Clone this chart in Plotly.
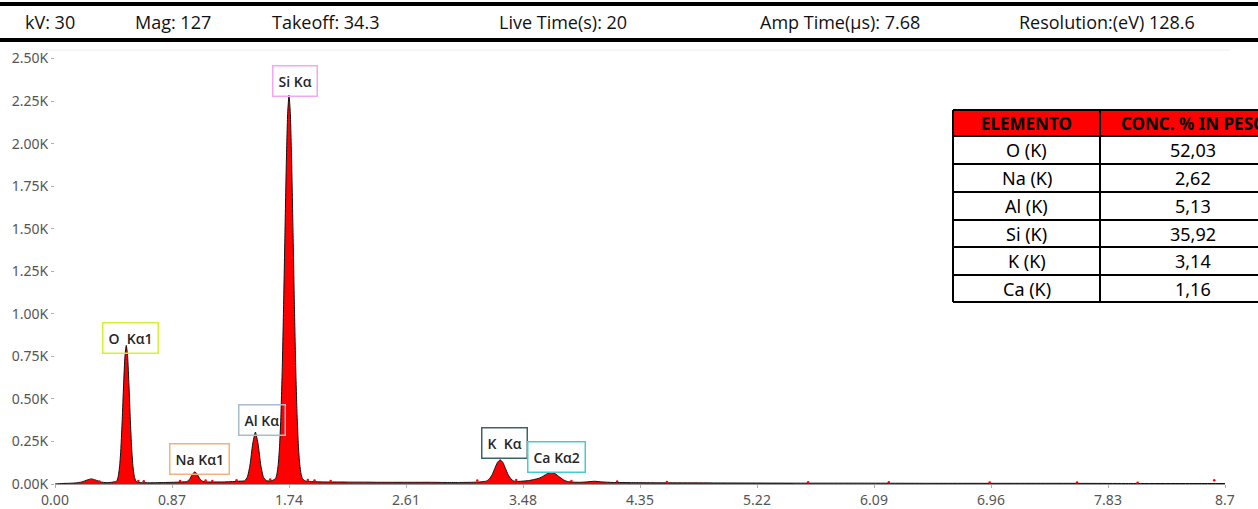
import plotly.graph_objects as go

# ---------------- data ----------------
energy = [
    0.00, 0.05, 0.10, 0.15, 0.20, 0.24, 0.27, 0.30, 0.34, 0.38, 0.42, 0.45,
    0.46, 0.47, 0.48, 0.49, 0.50, 0.51, 0.52, 0.53, 0.54, 0.55, 0.56, 0.57, 0.58, 0.59, 0.60, 0.61,
    0.64, 0.70, 0.76, 0.82, 0.88, 0.94, 0.98,
    1.00, 1.02, 1.04, 1.06, 1.08, 1.10, 1.14, 1.20, 1.26, 1.32, 1.38,
    1.41, 1.43, 1.45, 1.47, 1.49, 1.51, 1.53, 1.55, 1.57, 1.59, 1.61,
    1.62, 1.64, 1.65, 1.66, 1.67, 1.68, 1.69, 1.70, 1.71, 1.72, 1.73, 1.74, 1.75, 1.76, 1.77, 1.78,
    1.79, 1.80, 1.81, 1.82, 1.83, 1.84, 1.86, 1.90,
    1.95, 2.00, 2.10, 2.20, 2.30, 2.40, 2.50, 2.60, 2.70, 2.80, 2.90, 3.00, 3.10, 3.16, 3.20,
    3.21, 3.23, 3.25, 3.27, 3.29, 3.31, 3.33, 3.35, 3.37, 3.39, 3.41,
    3.44, 3.48, 3.52, 3.56, 3.60, 3.63, 3.66, 3.69, 3.72, 3.75, 3.78, 3.81, 3.85, 3.90, 3.95,
    4.01, 4.07, 4.15, 4.30, 4.50,
    5.00, 5.50, 6.00, 6.50, 7.00, 7.50, 8.00, 8.50, 8.70,
]
counts = [
    0, 3, 4, 6, 12, 24, 30, 24, 12, 8, 10, 14,
    18, 44, 100, 210, 380, 580, 750, 815, 750, 580, 380, 210, 100, 44, 20, 11,
    8, 7, 8, 9, 10, 12, 14,
    27, 54, 72, 54, 27, 15, 12, 12, 12, 14, 17,
    19, 40, 112, 235, 305, 235, 112, 40, 20, 18, 20,
    22, 32, 58, 115, 222, 406, 685, 1055, 1478, 1883, 2177, 2285, 2177, 1883, 1478, 1055,
    685, 406, 222, 115, 58, 32, 18, 14,
    13, 12, 12, 11, 11, 10, 10, 10, 10, 10, 9, 9, 10, 12, 16,
    18, 30, 54, 91, 127, 142, 127, 91, 54, 30, 18,
    15, 17, 20, 26, 34, 46, 60, 68, 60, 42, 25, 15, 11, 10, 12,
    16, 12, 9, 8, 7,
    6, 5, 5, 4, 4, 4, 3, 3, 3,
]

# scattered noise specks (red) along the baseline
noise_e = [0.33, 0.62, 0.66, 0.93, 1.12, 1.17, 1.35, 1.60, 1.88, 1.93, 2.05, 3.14, 3.43,
           3.84, 4.18, 4.55, 5.60, 6.20, 6.95, 7.60, 8.05, 8.62]
noise_c = [14, 18, 16, 18, 20, 18, 22, 26, 24, 20, 18, 20, 24,
           18, 14, 12, 10, 10, 9, 9, 8, 22]

peak_labels = ["O\u00a0\u00a0K\u03b11", "Na K\u03b11", "Al K\u03b1", "Si K\u03b1", "K\u00a0\u00a0K\u03b1", "Ca K\u03b12"]
label_x = [0.558, 1.074, 1.539, 1.781, 3.346, 3.729]
label_y = [857, 147, 376, 2368, 238, 156]
label_border = ["#d6ef3a", "#f2b27a", "#a9bccd", "#f3a6f3", "#3b6666", "#46cccc"]

x_ticks = [0.00, 0.87, 1.74, 2.61, 3.48, 4.35, 5.22, 6.09, 6.96, 7.83, 8.7]
x_ticktext = ["0.00", "0.87", "1.74", "2.61", "3.48", "4.35", "5.22", "6.09", "6.96", "7.83", "8.7"]
y_ticks = [0, 250, 500, 750, 1000, 1250, 1500, 1750, 2000, 2250, 2500]
y_ticktext = ["0.00K", "0.25K", "0.50K", "0.75K", "1.00K", "1.25K", "1.50K", "1.75K", "2.00K", "2.25K", "2.50K"]

header_items = ["kV: 30", "Mag: 127", "Takeoff: 34.3", "Live Time(s): 20", "Amp Time(\u00b5s): 7.68", "Resolution:(eV) 128.6"]
header_px = [50, 173, 325, 563, 840, 1107]

table_header = ["ELEMENTO", "CONC. % IN PESO"]
table_elements = ["O (K)", "Na (K)", "Al (K)", "Si (K)", "K (K)", "Ca (K)"]
table_conc = ["52,03", "2,62", "5,13", "35,92", "3,14", "1,16"]

# ---------------- layout geometry ----------------
W, H = 1258, 509
ML, MR, MT, MB = 55, 33, 50, 25
PW = W - ML - MR
PH = H - MT - MB


def pxx(x):
    return (x - ML) / PW


def pxy(y):
    return (H - MB - y) / PH


fig = go.Figure()

fig.add_trace(go.Scatter(
    x=energy, y=counts, mode="lines", fill="tozeroy",
    fillcolor="#ff0000", line=dict(color="#111111", width=1, shape="spline", smoothing=0.5),
    hoverinfo="skip", showlegend=False,
))
fig.add_trace(go.Scatter(
    x=noise_e, y=noise_c, mode="markers",
    marker=dict(color="#ff0000", size=2.5), hoverinfo="skip", showlegend=False,
))

annotations = []
for t, lx, ly, bc in zip(peak_labels, label_x, label_y, label_border):
    annotations.append(dict(
        x=lx, y=ly, xref="x", yref="y", text=t, showarrow=False,
        font=dict(family="Open Sans", size=14, color="#262626", weight=600),
        bordercolor=bc, borderwidth=1.5, borderpad=5, bgcolor="rgba(255,255,255,0)",
        xanchor="center", yanchor="middle",
    ))

# header texts
for t, hx in zip(header_items, header_px):
    annotations.append(dict(
        x=pxx(hx), y=pxy(22), xref="paper", yref="paper", text=t, showarrow=False,
        font=dict(family="Open Sans", size=18, color="#111111"),
        xanchor="center", yanchor="middle",
    ))

shapes = []
# header lines
shapes.append(dict(type="line", xref="paper", yref="paper", x0=pxx(0), x1=pxx(W), y0=pxy(4), y1=pxy(4),
                   line=dict(color="#000000", width=4)))
shapes.append(dict(type="line", xref="paper", yref="paper", x0=pxx(0), x1=pxx(W), y0=pxy(40), y1=pxy(40),
                   line=dict(color="#000000", width=4)))
# faint top frame of the plot area
shapes.append(dict(type="line", xref="paper", yref="paper", x0=pxx(45), x1=pxx(1230), y0=1, y1=1,
                   line=dict(color="#ececec", width=1)))

# table
tx0, tx1, tx2 = 953, 1100, 1286
ty = [110, 136, 164, 192, 220, 247, 275, 302]
shapes.append(dict(type="rect", xref="paper", yref="paper", x0=pxx(tx0), x1=pxx(tx2), y0=pxy(ty[0]), y1=pxy(ty[1]),
                   fillcolor="#ff0000", line=dict(width=0), layer="above"))
shapes.append(dict(type="rect", xref="paper", yref="paper", x0=pxx(tx0), x1=pxx(tx2), y0=pxy(ty[1]), y1=pxy(ty[-1]),
                   fillcolor="#ffffff", line=dict(width=0), layer="above"))
for yy in ty:
    shapes.append(dict(type="line", xref="paper", yref="paper", x0=pxx(tx0), x1=pxx(tx2), y0=pxy(yy), y1=pxy(yy),
                       line=dict(color="#000000", width=2), layer="above"))
for xx in (tx0, tx1):
    shapes.append(dict(type="line", xref="paper", yref="paper", x0=pxx(xx), x1=pxx(xx), y0=pxy(ty[0]), y1=pxy(ty[-1]),
                       line=dict(color="#000000", width=2), layer="above"))

c1 = (tx0 + tx1) / 2
c2 = (tx1 + tx2) / 2
for t, cx in zip(table_header, (c1, c2)):
    annotations.append(dict(
        x=pxx(cx), y=pxy((ty[0] + ty[1]) / 2), xref="paper", yref="paper", text=t, showarrow=False,
        font=dict(family="Noto Sans", size=17, color="#000000", weight=700), xanchor="center", yanchor="middle",
    ))
for i, (el, cc) in enumerate(zip(table_elements, table_conc)):
    yc = (ty[i + 1] + ty[i + 2]) / 2
    annotations.append(dict(x=pxx(c1), y=pxy(yc), xref="paper", yref="paper", text=el, showarrow=False,
                            font=dict(family="Noto Sans", size=18, color="#000000"), xanchor="center", yanchor="middle"))
    annotations.append(dict(x=pxx(c2), y=pxy(yc), xref="paper", yref="paper", text=cc, showarrow=False,
                            font=dict(family="Noto Sans", size=18, color="#000000"), xanchor="center", yanchor="middle"))

fig.update_layout(
    width=W, height=H,
    margin=dict(l=ML, r=MR, t=MT, b=MB, autoexpand=False),
    paper_bgcolor="#ffffff", plot_bgcolor="#ffffff",
    showlegend=False,
    annotations=annotations,
    shapes=shapes,
    xaxis=dict(
        range=[0, 8.7], tickvals=x_ticks, ticktext=x_ticktext, automargin=False,
        showgrid=False, zeroline=False, showline=True, linecolor="#9a9a9a", linewidth=1,
        ticks="outside", ticklen=3, tickcolor="#b0b0b0",
        tickfont=dict(family="Noto Sans", size=14, color="#555555"),
    ),
    yaxis=dict(
        range=[0, 2550], tickvals=y_ticks, ticktext=y_ticktext, automargin=False,
        showgrid=False, zeroline=False, showline=False,
        ticks="outside", ticklen=3, tickcolor="#b0b0b0",
        tickfont=dict(family="Noto Sans", size=14, color="#555555"),
    ),
)

fig.write_html("out.html")
